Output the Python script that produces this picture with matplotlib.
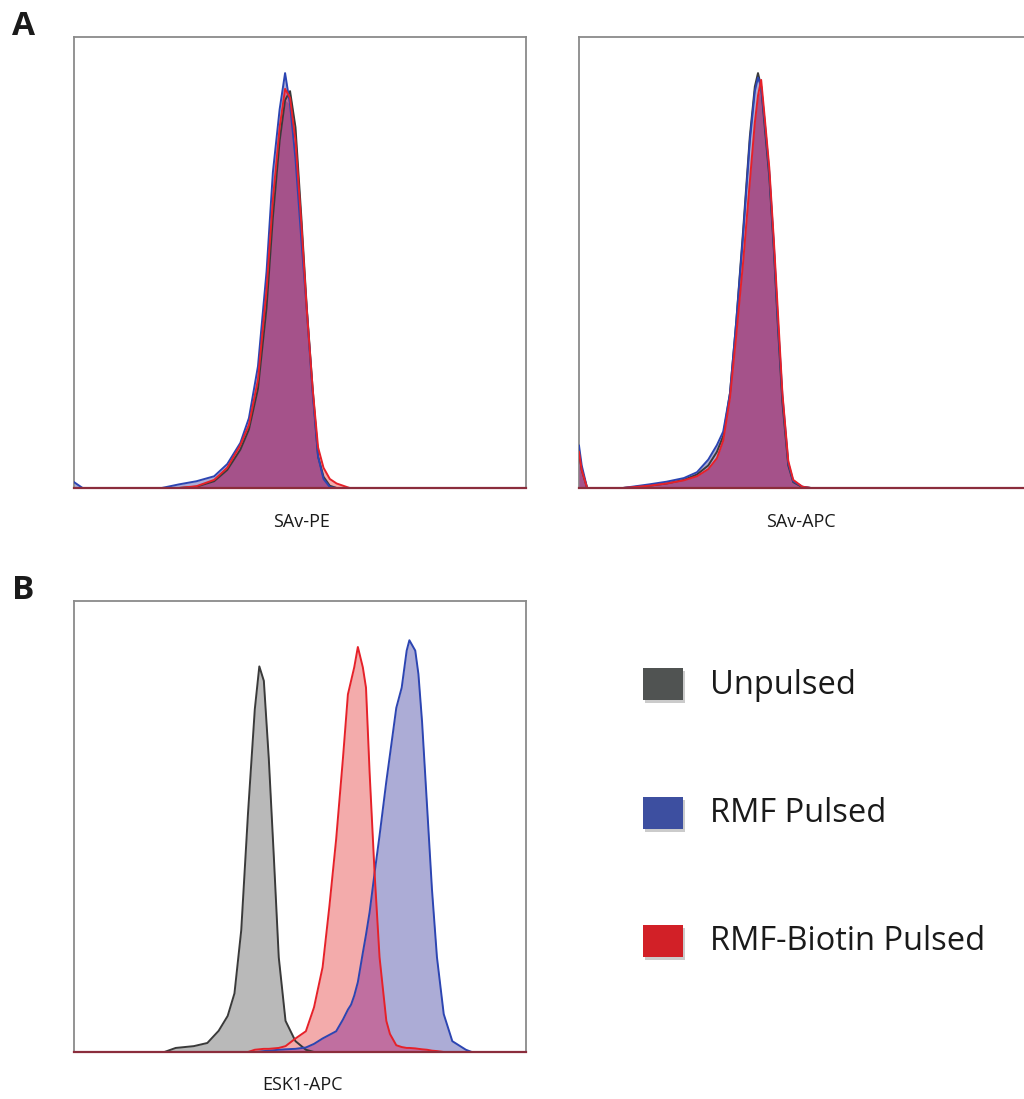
import numpy as np
import matplotlib
matplotlib.use("Agg")
import matplotlib.pyplot as plt
from matplotlib.patches import Rectangle

plt.rcParams['font.family'] = ['Open Sans', 'DejaVu Sans']

# ---------------- data (relative counts, % of max; x = channel 0..1000) ----------------
series_names = ["Unpulsed", "RMF Pulsed", "RMF-Biotin Pulsed"]

# Panel A left: SAv-PE
pe_x = [0, 19, 194, 232, 271, 310, 339, 368, 387, 407, 426, 440, 455, 467, 478,
        490, 503, 515, 528, 540, 552, 566, 581, 610, 1000]
pe_unpulsed = [0, 0, 0, 0, 0.3, 1.5, 4, 8.5, 13, 22, 40, 60, 77, 86, 88,
               80, 60, 40, 22, 7, 2.5, 0.5, 0, 0, 0]
pe_rmf = [1.3, 0, 0, 0.8, 1.5, 2.6, 5.3, 10, 15.5, 27, 48, 70, 84, 92, 85,
          73, 55, 39.5, 21, 7, 2, 0.2, 0, 0, 0]
pe_biotin = [0, 0, 0, 0, 0.4, 1.8, 4.5, 9.5, 14, 24, 44, 64, 80, 88.5, 86.5,
             77, 58.6, 39.5, 22, 9, 4.5, 2, 1, 0, 0]

# Panel A right: SAv-APC
apc_x = [0, 6, 18, 97, 155, 194, 232, 261, 286, 305, 319, 334, 348, 363, 378,
         389, 396, 403, 411, 421, 431, 440, 450, 463, 474, 494, 513, 1000]
apc_unpulsed = [8, 4, 0, 0, 0.5, 1, 1.8, 3, 5, 8, 11.5, 21, 37, 57, 78,
                89, 92, 89, 80, 69, 53, 36, 19, 5, 1.3, 0.2, 0, 0]
apc_rmf = [9.4, 5, 0, 0, 0.8, 1.4, 2.2, 3.5, 6.3, 9.5, 12.5, 21, 37, 56, 77,
           88, 91, 89, 81, 70, 54, 37, 20.5, 5.5, 1.5, 0.3, 0, 0]
apc_biotin = [8, 4, 0, 0, 0.5, 1.0, 1.7, 2.6, 4.2, 6.6, 10.5, 20, 34, 50, 68,
              81, 87, 90.5, 82, 71, 55, 39, 21, 6, 1.8, 0.3, 0, 0]

# Panel B: ESK1-APC
esk_x = [0, 200, 225, 265, 295, 320, 340, 355, 370, 385, 400, 410, 420, 431, 442,
         453, 468, 490, 513, 531, 550, 565, 580, 595, 606, 613, 620, 628, 639, 646,
         654, 665, 676, 691, 699, 713, 725, 736, 742, 755, 762, 770, 781, 792, 803,
         818, 837, 867, 880, 1000]
esk_unpulsed = [0, 0, 0.9, 1.3, 2.0, 4.7, 8, 13, 27, 53, 76, 85.5, 82.3, 65, 43.5,
                21, 6.9, 2.4, 0.5, 0, 0, 0, 0, 0, 0, 0, 0, 0, 0, 0,
                0, 0, 0, 0, 0, 0, 0, 0, 0, 0, 0, 0, 0, 0, 0,
                0, 0, 0, 0, 0]
esk_rmf = [0, 0, 0, 0, 0, 0, 0, 0, 0, 0, 0, 0.1, 0.2, 0.3, 0.4,
           0.5, 0.6, 0.7, 1.0, 1.8, 3.0, 3.8, 4.6, 7.2, 9.4, 10.5, 12.5, 15.5, 22, 26,
           31, 39.7, 48, 60, 65.9, 76.3, 80.8, 89, 91.3, 89, 83.8, 73.3, 54.7, 36, 21,
           8.4, 2.4, 0.5, 0, 0]
esk_biotin = [0, 0, 0, 0, 0, 0, 0, 0, 0, 0, 0.5, 0.6, 0.7, 0.7, 0.8,
              0.9, 1.3, 3.0, 4.6, 9.9, 18.8, 32.3, 47.2, 65.1, 79.3, 82.3, 85.3, 89.8, 85.3, 80.8,
              62, 39.7, 21, 6.9, 4, 1.5, 1.1, 0.9, 0.9, 0.8, 0.7, 0.6, 0.5, 0.3, 0.2,
              0, 0, 0, 0, 0]

panel_labels = ["A", "B"]
axis_labels = ["SAv-PE", "SAv-APC", "ESK1-APC"]

# ---------------- styles ----------------
line_cols = {"Unpulsed": "#3a3a3a", "RMF Pulsed": "#2c45b2", "RMF-Biotin Pulsed": "#e62129"}
fill_cols = {"Unpulsed": "#b9b9b9", "RMF Pulsed": "#acacd6", "RMF-Biotin Pulsed": "#f3abab"}
legend_cols = {"Unpulsed": "#505352", "RMF Pulsed": "#3d4fa0", "RMF-Biotin Pulsed": "#d22027"}
overlap_rb = "#c06fa0"
overlap_all = "#a5528a"

W, H = 1024, 1099
fig = plt.figure(figsize=(W / 100, H / 100), dpi=100)


def ax_rect(x0, y0, x1, y1):
    return [x0 / W, 1 - y1 / H, (x1 - x0) / W, (y1 - y0) / H]


def draw_panel(ax, x, ys, triple):
    x = np.asarray(x, float)
    g, b, r = (np.asarray(v, float) for v in ys)
    for name, y in zip(series_names, (g, b, r)):
        ax.fill_between(x, 0, y, color=fill_cols[name], lw=0, zorder=1)
    ax.fill_between(x, 0, np.minimum(b, r), color=overlap_rb, lw=0, zorder=2)
    if triple:
        ax.fill_between(x, 0, np.minimum(np.minimum(g, b), r), color=overlap_all, lw=0, zorder=3)
    for name, y in zip(series_names, (g, b, r)):
        ax.plot(x, y, color=line_cols[name], lw=1.4, zorder=4, solid_joinstyle='round')
    ax.set_xlim(0, 1000)
    ax.set_ylim(0, 100)
    ax.set_xticks([])
    ax.set_yticks([])
    for s in ax.spines.values():
        s.set_color("#8a8a8a")
        s.set_linewidth(1.3)
    ax.spines['bottom'].set_color("#8b2d3c")
    ax.spines['bottom'].set_linewidth(1.6)
    ax.spines['bottom'].set_zorder(5)


ax1 = fig.add_axes(ax_rect(74, 37, 526, 488))
draw_panel(ax1, pe_x, (pe_unpulsed, pe_rmf, pe_biotin), True)
ax2 = fig.add_axes(ax_rect(579, 37, 1031, 488))
draw_panel(ax2, apc_x, (apc_unpulsed, apc_rmf, apc_biotin), True)
ax3 = fig.add_axes(ax_rect(74, 601, 526, 1052))
draw_panel(ax3, esk_x, (esk_unpulsed, esk_rmf, esk_biotin), False)

# axis labels
fig.text(302 / W, 1 - 522 / H, axis_labels[0], ha='center', va='center', fontsize=13, color='#1a1a1a')
fig.text(801 / W, 1 - 522 / H, axis_labels[1], ha='center', va='center', fontsize=13, color='#1a1a1a')
fig.text(302 / W, 1 - 1085 / H, axis_labels[2], ha='center', va='center', fontsize=13, color='#1a1a1a')

# panel letters
fig.text(12 / W, 1 - 35 / H, panel_labels[0], ha='left', va='baseline', fontsize=24,
         fontweight='bold', color='#1a1a1a')
fig.text(12 / W, 1 - 599 / H, panel_labels[1], ha='left', va='baseline', fontsize=24,
         fontweight='bold', color='#1a1a1a')

# legend
leg_y = [684, 813, 941]
for name, yc in zip(series_names, leg_y):
    fig.add_artist(Rectangle(((643 + 2) / W, 1 - (yc + 16 + 3) / H), 40 / W, 32 / H,
                             transform=fig.transFigure, color='#999999', alpha=0.5, lw=0))
    fig.add_artist(Rectangle((643 / W, 1 - (yc + 16) / H), 40 / W, 32 / H,
                             transform=fig.transFigure, color=legend_cols[name], lw=0))
    fig.text(710 / W, 1 - (yc + 1) / H, name, ha='left', va='center', fontsize=23.5, color='#1a1a1a')

fig.savefig("out.png", dpi=100)
